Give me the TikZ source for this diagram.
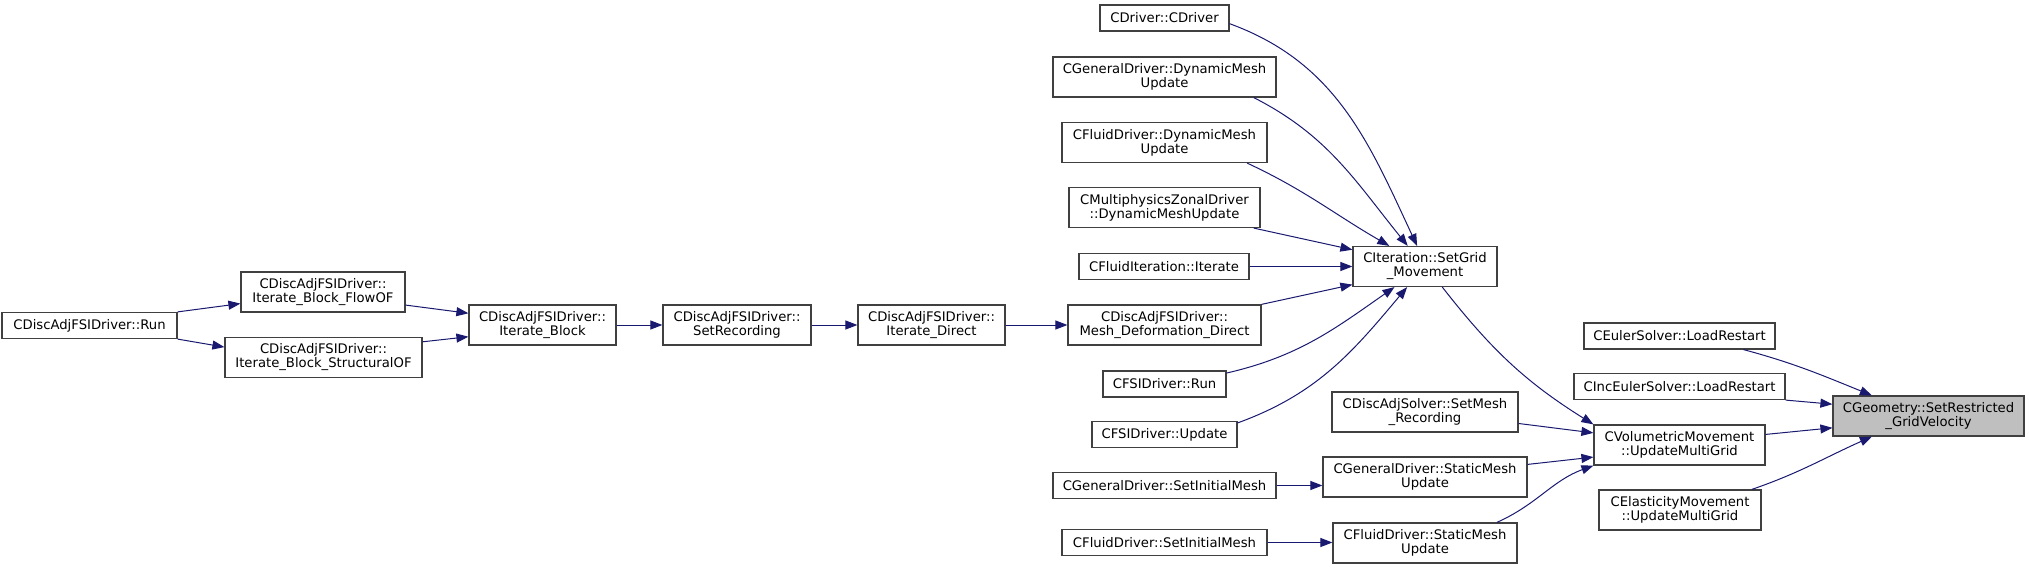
\documentclass[tikz,border=0pt]{standalone}
\usepackage{fontspec}
\setmainfont{DejaVu Sans}
\usetikzlibrary{arrows.meta}
\definecolor{edgeblue}{HTML}{191970}

\begin{document}
\begin{tikzpicture}[x=1pt,y=-1pt,
  fn/.style={draw=black!75, line width=1.2pt, fill=white, align=center, inner sep=0pt, minimum height=26pt, font=\fontsize{13.2}{14}\selectfont},
  fn2/.style={fn, minimum height=40pt},
  call/.style={draw=edgeblue, line width=1pt, -{Triangle[length=12pt,width=9pt]}}]
\useasboundingbox (0,0) rectangle (2029,569);
\node[fn, minimum width=175pt] (run) at (89.5,325.5) {CDiscAdjFSIDriver::Run};
\node[fn2, minimum width=164pt] (flowof) at (323,292) {CDiscAdjFSIDriver::\\Iterate\_Block\_FlowOF};
\node[fn2, minimum width=197pt] (structof) at (323.5,357.5) {CDiscAdjFSIDriver::\\Iterate\_Block\_StructuralOF};
\node[fn2, minimum width=147pt] (iterblock) at (542.5,325) {CDiscAdjFSIDriver::\\Iterate\_Block};
\node[fn2, minimum width=148pt] (setrec) at (737,325) {CDiscAdjFSIDriver::\\SetRecording};
\node[fn2, minimum width=147pt] (iterdirect) at (931.5,325) {CDiscAdjFSIDriver::\\Iterate\_Direct};
\node[fn, minimum width=129pt] (cdriver) at (1164.5,18) {CDriver::CDriver};
\node[fn2, minimum width=223pt] (gendyn) at (1164.5,77) {CGeneralDriver::DynamicMesh\\Update};
\node[fn2, minimum width=205pt] (fluiddyn) at (1164.5,142.5) {CFluidDriver::DynamicMesh\\Update};
\node[fn2, minimum width=191pt] (zonaldyn) at (1164.5,207.5) {CMultiphysicsZonalDriver\\::DynamicMeshUpdate};
\node[fn, minimum width=170pt] (fluiditer) at (1164,266.5) {CFluidIteration::Iterate};
\node[fn2, minimum width=193pt] (meshdef) at (1164.5,325) {CDiscAdjFSIDriver::\\Mesh\_Deformation\_Direct};
\node[fn, minimum width=123pt] (fsirun) at (1164.5,384) {CFSIDriver::Run};
\node[fn, minimum width=145pt] (fsiupdate) at (1164.5,434.5) {CFSIDriver::Update};
\node[fn, minimum width=223pt] (geninit) at (1164.5,485.5) {CGeneralDriver::SetInitialMesh};
\node[fn, minimum width=205pt] (fluidinit) at (1164.5,542.5) {CFluidDriver::SetInitialMesh};
\node[fn2, minimum width=144pt] (setgrid) at (1425,266.5) {CIteration::SetGrid\\\_Movement};
\node[fn2, minimum width=186pt] (meshrec) at (1425,412) {CDiscAdjSolver::SetMesh\\\_Recording};
\node[fn2, minimum width=204pt] (genstatic) at (1425,477) {CGeneralDriver::StaticMesh\\Update};
\node[fn2, minimum width=184pt] (fluidstatic) at (1425,543) {CFluidDriver::StaticMesh\\Update};
\node[fn2, minimum width=171pt] (volmove) at (1679.5,445) {CVolumetricMovement\\::UpdateMultiGrid};
\node[fn2, minimum width=162pt] (elastmove) at (1680,510) {CElasticityMovement\\::UpdateMultiGrid};
\node[fn, minimum width=191pt] (eulerload) at (1679.5,336) {CEulerSolver::LoadRestart};
\node[fn, minimum width=211pt] (inceulerload) at (1679.5,386.5) {CIncEulerSolver::LoadRestart};
\node[fn2, minimum width=191pt, fill=black!25] (setrestr) at (1928.5,416) {CGeometry::SetRestricted\\\_GridVelocity};
\draw[call] (run.north east) -- (flowof.188);
\draw[call] (run.south east) -- (structof.174);
\draw[call] (flowof.351) -- (iterblock.171);
\draw[call] (structof.9) -- (iterblock.189);
\draw[call] (iterblock) -- (setrec);
\draw[call] (setrec) -- (iterdirect);
\draw[call] (iterdirect) -- (meshdef);
\draw[call] (cdriver.-5) to[out=-20,in=115] (setgrid.111);
\draw[call] (gendyn.-13) to[out=-27,in=129] (setgrid.130);
\draw[call] (fluiddyn.-14) to[out=-25,in=150] (setgrid.150);
\draw[call] (zonaldyn.-13) -- (setgrid.167);
\draw[call] (fluiditer) -- (setgrid);
\draw[call] (meshdef.12) -- (setgrid.194);
\draw[call] (fsirun.10) to[out=13,in=215] (setgrid.214);
\draw[call] (fsiupdate.9) to[out=20,in=230] (setgrid.229);
\draw[call] (setgrid.-50) to[out=-52,in=148] (volmove.north west);
\draw[call] (meshrec.-7) -- (volmove.172);
\draw[call] (genstatic.7) -- (volmove.188);
\draw[call] (fluidstatic.16) to[out=24,in=200] (volmove.south west);
\draw[call] (geninit) -- (geninit -| genstatic.west);
\draw[call] (fluidinit) -- (fluidinit -| fluidstatic.west);
\draw[call] (eulerload.-12) to[out=-15,in=158] (setrestr.160);
\draw[call] (inceulerload.south east) -- (setrestr.173);
\draw[call] (volmove.7) -- (setrestr.187);
\draw[call] (elastmove.16) to[out=19,in=204] (setrestr.200);
\end{tikzpicture}
\end{document}
